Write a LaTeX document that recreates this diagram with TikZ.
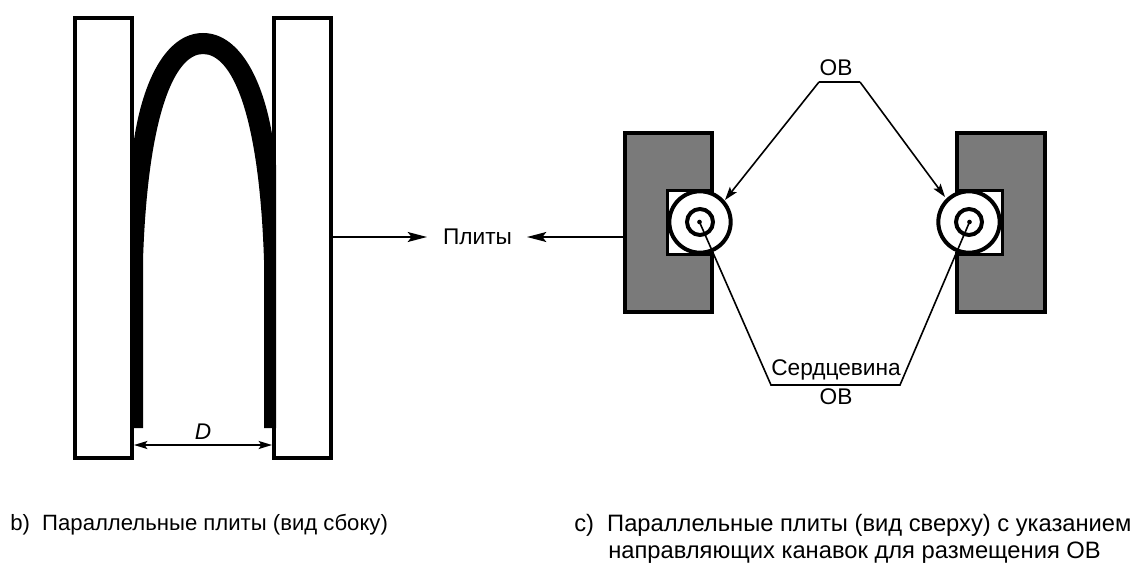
\documentclass[tikz,border=0pt]{standalone}
\usepackage{fontspec}
\setmainfont{Liberation Sans}
\usetikzlibrary{arrows.meta}
\definecolor{plategray}{RGB}{122,122,122}
\tikzset{
  x=0.75pt,y=-0.75pt,
  lbl/.style={font=\fontsize{17pt}{20pt}\selectfont,inner sep=0pt,text=black,anchor=base},
  capleft/.style={font=\fontsize{16.6pt}{20pt}\selectfont,inner sep=0pt,text=black,anchor=base west},
  capright/.style={font=\fontsize{17.8pt}{20pt}\selectfont,inner sep=0pt,text=black,anchor=base west},
  plate/.style={draw=black,line width=3pt,fill=white},
  grayplate/.style={draw=black,line width=3pt,fill=plategray},
  ring/.style={draw=black,line width=3pt,fill=white},
  leader/.style={draw=black,line width=1.2pt},
  arrowed/.style={leader,-{Stealth[length=10pt,width=6.5pt,inset=2pt]}},
  bigarrow/.style={leader,-{Stealth[length=14.5pt,width=7.5pt,inset=3pt]}},
  dimline/.style={leader,{Stealth[length=10pt,width=6pt,inset=2pt]}-{Stealth[length=10pt,width=6pt,inset=2pt]}}
}
\begin{document}
\begin{tikzpicture}
\useasboundingbox (0,0) rectangle (1136,563);
% b) side view
\draw[plate] (75,18) rectangle (132,458);
\draw[plate] (274,18) rectangle (331,458);
\fill[black] (131,428) -- (131,165)
  .. controls (138,85) and (165,33) .. (203,33)
  .. controls (241,33) and (269,85) .. (276,165)
  -- (276,428) -- (264,428) -- (264,260)
  .. controls (259,110) and (231,54) .. (203,54)
  .. controls (176,54) and (148,110) .. (143,260)
  -- (143,428) -- cycle;
\coordinate (dl) at (134,445);
\coordinate (dr) at (272,445);
\draw[dimline] (dl) -- (dr);
\node[lbl,font=\fontsize{17pt}{20pt}\selectfont\itshape] (dlabel) at (203,439) {D};
% c) top view, left
\path[grayplate] (625,133) -- (712,133) -- (712,191) -- (668,191) -- (668,254) -- (712,254) -- (712,311.5) -- (625,311.5) -- cycle;
\fill[white] (669,192) rectangle (700,253);
\node[ring,circle,minimum size=46pt,inner sep=0pt] (cl) at (700,222) {};
\node[ring,circle,minimum size=19.5pt,inner sep=0pt] (il) at (700,222) {};
\node[fill=black,circle,minimum size=3.5pt,inner sep=0pt] (pl) at (699.5,222) {};
% c) top view, right
\path[grayplate] (957,133) -- (1044.5,133) -- (1044.5,311.5) -- (957,311.5) -- (957,254) -- (1001.5,254) -- (1001.5,191) -- (957,191) -- cycle;
\fill[white] (970,192) rectangle (1000.5,253);
\node[ring,circle,minimum size=46pt,inner sep=0pt] (cr) at (969,222) {};
\node[ring,circle,minimum size=19.5pt,inner sep=0pt] (ir) at (969,222) {};
\node[fill=black,circle,minimum size=3.5pt,inner sep=0pt] (pr) at (969.5,222) {};
% plates label
\node[lbl] (pliti) at (477.5,245) {Плиты};
\coordinate (rp) at (332.5,237);
\coordinate (lp) at (623.5,237);
\coordinate (pa) at (427,237);
\coordinate (pb) at (527,237);
\draw[bigarrow] (rp) -- (pa);
\draw[bigarrow] (lp) -- (pb);
% OV top
\node[lbl] (ovt) at (836,76) {ОВ};
\coordinate (t1) at (819,82);
\coordinate (t2) at (860,82);
\coordinate (tipl) at (725,200);
\coordinate (tipr) at (945,197);
\draw[leader] (t1) -- (t2);
\draw[arrowed] (t1) -- (tipl);
\draw[arrowed] (t2) -- (tipr);
% core leaders
\coordinate (b1) at (771,385);
\coordinate (b2) at (900,385);
\draw[leader] (pl.center) -- (b1) -- (b2) -- (pr.center);
\node[lbl] (core) at (836,375) {Сердцевина};
\node[lbl] (ovb) at (836,404) {ОВ};
% captions
\node[capleft] (capb) at (10,530) {b)\ \ Параллельные плиты (вид сбоку)};
\node[capright] (capc) at (574,531) {с)\ \ Параллельные плиты (вид сверху) с указанием};
\node[capright] (capd) at (608,558) {направляющих канавок для размещения ОВ};
\end{tikzpicture}
\end{document}
